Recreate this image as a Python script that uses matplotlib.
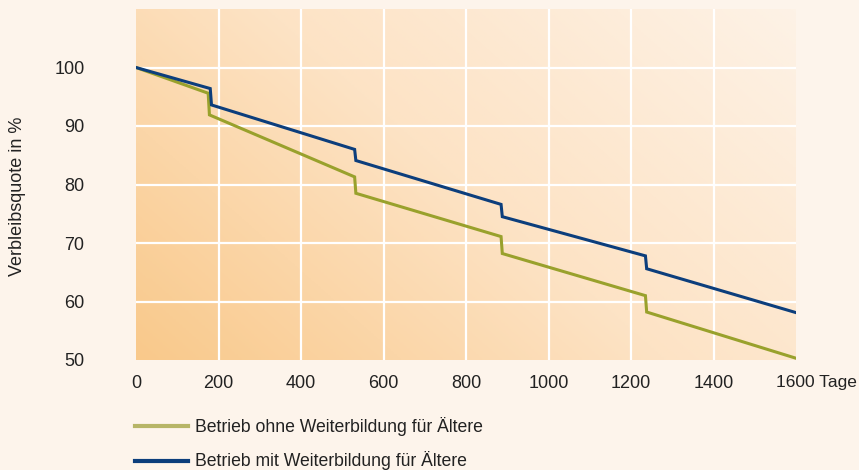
import numpy as np
import matplotlib.pyplot as plt
from matplotlib.colors import LinearSegmentedColormap
from matplotlib.transforms import ScaledTranslation

plt.rcParams['font.family'] = ['Liberation Sans', 'DejaVu Sans']

GREEN = "#99a12c"
GREEN_LEG = "#b7b567"
BLUE = "#0c3e7c"
PAGE = "#fdf4eb"

# Verbleibsquote (%) over days
days_ohne = [0, 175, 178, 530, 533, 885, 888, 1235, 1238, 1600]
quote_ohne = [100, 95.6, 91.9, 81.3, 78.5, 71.1, 68.2, 61.0, 58.2, 50.3]
days_mit = [0, 180, 183, 530, 533, 885, 888, 1235, 1238, 1600]
quote_mit = [100, 96.4, 93.6, 86.0, 84.1, 76.6, 74.5, 67.8, 65.6, 58.1]

xticks = [0, 200, 400, 600, 800, 1000, 1200, 1400, 1600]
xlabels = ["0", "200", "400", "600", "800", "1000", "1200", "1400", "1600 Tage"]
yticks = [50, 60, 70, 80, 90, 100]

fig = plt.figure(figsize=(8.59, 4.70), dpi=100, facecolor=PAGE)
ax = fig.add_axes([136 / 859, 1 - 360 / 470, 660 / 859, 351 / 470])
ax.set_facecolor(PAGE)

# diagonal gradient: orange bottom-left -> pale top-right
gx, gy = np.meshgrid(np.linspace(0, 1, 200), np.linspace(0, 1, 120))
grad = (gx * 0.75 + gy * 0.45) / 1.2
cmap = LinearSegmentedColormap.from_list("bg", ["#f9c98b", "#fde3c5", "#fdf2e6"])
ax.imshow(grad, cmap=cmap, origin="lower", extent=[0, 1600, 50, 110],
          aspect="auto", zorder=0)

ax.set_xlim(0, 1600)
ax.set_ylim(50, 110)
for x in xticks[1:-1]:
    ax.axvline(x, color="white", lw=1.6, zorder=1)
for y in yticks[1:]:
    ax.axhline(y, color="white", lw=1.6, zorder=1)

ax.plot(days_ohne, quote_ohne, color=GREEN, lw=2.2, zorder=3, solid_joinstyle="miter")
ax.plot(days_mit, quote_mit, color=BLUE, lw=2.2, zorder=4, solid_joinstyle="miter")

for s in ax.spines.values():
    s.set_visible(False)
ax.set_xticks(xticks)
ax.set_xticklabels(xlabels)
ax.set_yticks(yticks)
ax.tick_params(length=0, labelsize=13, colors="#222222")
ax.tick_params(axis="y", pad=37)
ax.tick_params(axis="x", pad=11)
last = ax.get_xticklabels()[-1]
last.set_horizontalalignment("left")
last.set_fontsize(12.5)
last.set_transform(last.get_transform() + ScaledTranslation(-20 / 100, 0, fig.dpi_scale_trans))

fig.text(18 / 859, 1 - 196 / 470, "Verbleibsquote in %", rotation=90, ha="center",
         va="center", fontsize=13, color="#222222")

# legend drawn by hand below the plot
for yy, col, lab in [(426, GREEN_LEG, "Betrieb ohne Weiterbildung für Ältere"),
                     (461, BLUE, "Betrieb mit Weiterbildung für Ältere")]:
    fig.add_artist(plt.Line2D([135 / 859, 188 / 859], [1 - yy / 470, 1 - yy / 470],
                              color=col, lw=3))
    fig.text(195 / 859, 1 - yy / 470, lab, ha="left", va="center",
             fontsize=12.7, color="#222222")

fig.savefig("out.png", dpi=100, facecolor=PAGE)
